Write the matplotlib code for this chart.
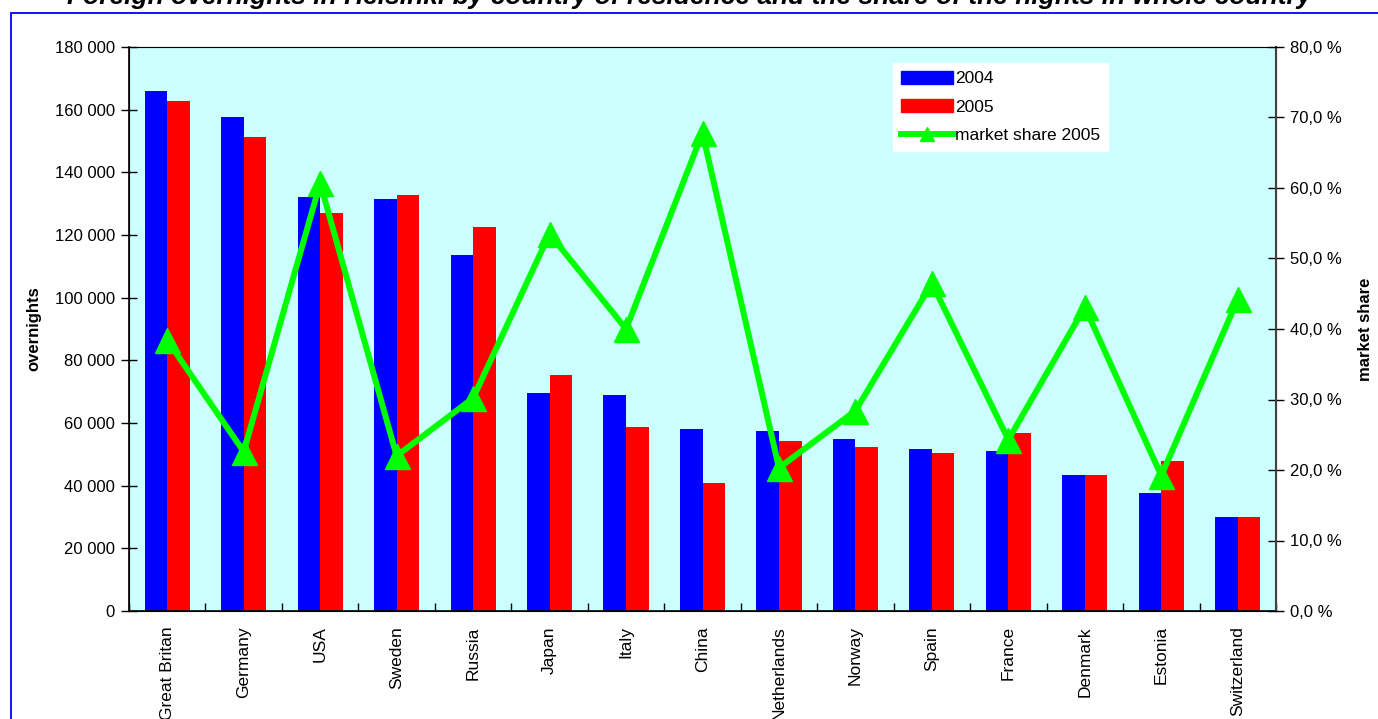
import matplotlib
matplotlib.use("Agg")
import matplotlib.pyplot as plt
import matplotlib.patches as mpatches
from matplotlib.lines import Line2D
from matplotlib.ticker import FuncFormatter, FixedLocator
import numpy as np

plt.rcParams['font.family'] = ['Liberation Sans', 'DejaVu Sans']

countries = ["Great Britan", "Germany", "USA", "Sweden", "Russia", "Japan", "Italy",
             "China", "Netherlands", "Norway", "Spain", "France", "Denmark",
             "Estonia", "Switzerland"]
overnights_2004 = [166000, 157700, 132100, 131500, 113600, 69600, 68900,
                   58100, 57500, 55000, 51700, 51100, 43400, 37800, 29900]
overnights_2005 = [162800, 151300, 127000, 132800, 122600, 75300, 58700,
                   40900, 54300, 52300, 50400, 56800, 43400, 47900, 29900]
market_share_2005 = [38.4, 22.6, 60.7, 22.0, 30.2, 53.5, 40.0,
                     67.8, 20.3, 28.4, 46.5, 24.3, 43.1, 19.2, 44.2]

W, H = 1378, 719
fig = plt.figure(figsize=(W / 100, H / 100), dpi=100)
fig.patch.set_facecolor('white')

left, right, top, bottom = 129, 1276, 47, 611
ax = fig.add_axes([left / W, 1 - bottom / H, (right - left) / W, (bottom - top) / H])
ax.set_facecolor('#CCFFFF')

x = np.arange(len(countries))
bw = 0.295
ax.bar(x - bw / 2, overnights_2004, width=bw, color='#0000FF', zorder=2, label='2004')
ax.bar(x + bw / 2, overnights_2005, width=bw, color='#FF0000', zorder=2, label='2005')

ax.set_xlim(-0.5, len(countries) - 0.5)
ax.set_ylim(0, 180000)
ax.set_yticks(np.arange(0, 180001, 20000))
ax.yaxis.set_major_formatter(FuncFormatter(lambda v, p: f"{int(v):,}".replace(",", " ")))
ax.tick_params(axis='y', direction='inout', length=12, width=1, labelsize=12, pad=4, colors='black')

ax.set_xticks(x)
ax.set_xticklabels(countries, rotation=90, fontsize=12.5)
ax.xaxis.set_minor_locator(FixedLocator(np.arange(-0.5, len(countries), 1.0)))
ax.tick_params(axis='x', which='major', length=0, pad=11)
ax.tick_params(axis='x', which='minor', direction='in', length=6, width=1)

for s in ['left', 'bottom']:
    ax.spines[s].set_color('black')
    ax.spines[s].set_linewidth(1.2)
ax.spines['top'].set_color('#A0A0A0')
ax.spines['right'].set_color('#404040')

ax.set_ylabel('overnights', fontsize=12, fontweight='bold', labelpad=10)

ax2 = ax.twinx()
ax2.plot(x, market_share_2005, color='#00FF00', lw=4.3, marker='^', markersize=18,
         markeredgecolor='#00FF00', solid_joinstyle='miter', zorder=3)
ax2.set_ylim(0, 80)
ax2.set_yticks(np.arange(0, 80.1, 10))
ax2.yaxis.set_major_formatter(FuncFormatter(lambda v, p: f"{v:.1f} %".replace(".", ",")))
ax2.tick_params(axis='y', direction='inout', length=12, width=1, labelsize=12, pad=4)
ax2.spines['right'].set_color('#404040')
ax2.spines['right'].set_linewidth(1.5)
ax2.set_ylabel('market share', fontsize=12, fontweight='bold', labelpad=12)

handles = [mpatches.Patch(color='#0000FF', label='2004'),
           mpatches.Patch(color='#FF0000', label='2005'),
           Line2D([0], [0], color='#00FF00', lw=4.3, marker='^', markersize=10,
                  label='market share 2005')]
leg = ax2.legend(handles=handles, loc='upper left',
                 bbox_to_anchor=(893 / W, 1 - 63 / H), bbox_transform=fig.transFigure,
                 fontsize=12.5, frameon=True, fancybox=False, framealpha=1,
                 handlelength=3.0, handleheight=0.75, handletextpad=0.1,
                 labelspacing=0.75, borderpad=0.45, borderaxespad=0)
leg.get_frame().set_edgecolor('white')
leg.get_frame().set_facecolor('white')

fig.text(0.5, 1 - 4 / H,
         "Foreign overnights in Helsinki by country of residence and the share of the nights in whole country",
         ha='center', va='baseline', fontsize=19, fontweight='bold', fontstyle='italic')

border = mpatches.Rectangle((11 / W, -0.1), 1.5, 1 - 13 / H + 0.1, transform=fig.transFigure,
                            fill=False, edgecolor='#0000FF', lw=1.3)
fig.patches.append(border)

fig.savefig('out.png', dpi=100)
